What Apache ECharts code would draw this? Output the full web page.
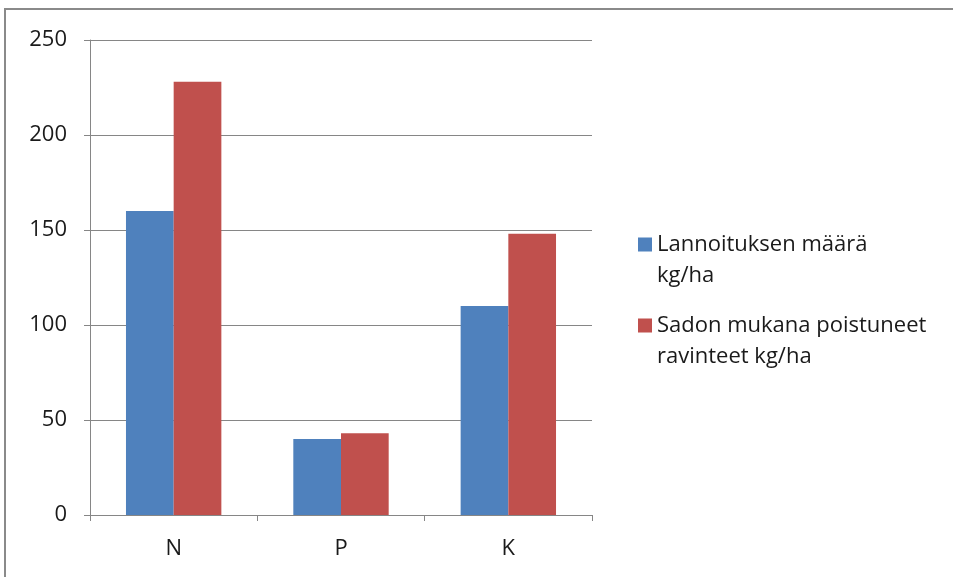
<!DOCTYPE html>
<html>
<head>
<meta charset="utf-8">
<script src="https://cdn.jsdelivr.net/npm/echarts@6/dist/echarts.min.js"></script>
<style>
    html, body {
        margin: 0;
        padding: 0;
        background: #fff;
    }

    #picture {
        width: 953px;
        height: 577px;
    }
</style>
</head>
<body>
<div id="picture"></div>
<script>
    // data
    var categories = ['N', 'P', 'K'];
    var seriesNames = ['Lannoituksen määrä\nkg/ha', 'Sadon mukana poistuneet\nravinteet kg/ha'];
    var fertilised = [160, 40, 110];
    var removed = [228, 43, 148];
    var yTicks = [0, 50, 100, 150, 200, 250];

    var myChart = echarts.init(document.getElementById('picture'));
    var font = '"Open Sans", "Noto Sans", sans-serif';
    // square sitting on the first text line (a stray point stretches the box down)
    var legendIcon = 'path://M0,0L14,0L14,14L0,14Z M0,45L0.01,45';

    var option = {
        animation: false,
        textStyle: {
            fontFamily: font
        },
        graphic: [{
            type: 'rect',
            shape: { x: 5, y: 9, width: 1000, height: 620 },
            style: { fill: 'none', stroke: '#8a8a8a', lineWidth: 2 },
            silent: true
        }],
        grid: {
            left: 90,
            right: 361,
            top: 40,
            bottom: 62
        },
        legend: {
            orient: 'vertical',
            left: 633,
            top: 224,
            itemWidth: 14,
            itemHeight: 45,
            itemGap: 19,
            icon: legendIcon,
            data: seriesNames,
            textStyle: {
                fontSize: 22,
                color: '#1a1a1a',
                lineHeight: 31,
                fontFamily: font
            }
        },
        xAxis: {
            type: 'category',
            data: categories,
            axisLine: {
                lineStyle: { color: '#868686', width: 1 }
            },
            axisTick: {
                show: true,
                length: 6,
                lineStyle: { color: '#868686' }
            },
            axisLabel: {
                fontSize: 22,
                color: '#1a1a1a',
                margin: 23
            }
        },
        yAxis: {
            type: 'value',
            min: yTicks[0],
            max: yTicks[yTicks.length - 1],
            interval: 50,
            axisLine: {
                show: true,
                lineStyle: { color: '#868686', width: 1 }
            },
            axisTick: {
                show: true,
                length: 6,
                lineStyle: { color: '#868686' }
            },
            axisLabel: {
                fontSize: 22,
                color: '#1a1a1a',
                margin: 23
            },
            splitLine: {
                show: true,
                lineStyle: { color: '#868686', width: 1 }
            }
        },
        series: [{
            name: seriesNames[0],
            type: 'bar',
            data: fertilised,
            barGap: '0%',
            barCategoryGap: '43%',
            itemStyle: { color: '#4F81BD' }
        }, {
            name: seriesNames[1],
            type: 'bar',
            data: removed,
            barGap: '0%',
            barCategoryGap: '43%',
            itemStyle: { color: '#C0504D' }
        }]
    };
    myChart.setOption(option);
</script>
</body>
</html>
